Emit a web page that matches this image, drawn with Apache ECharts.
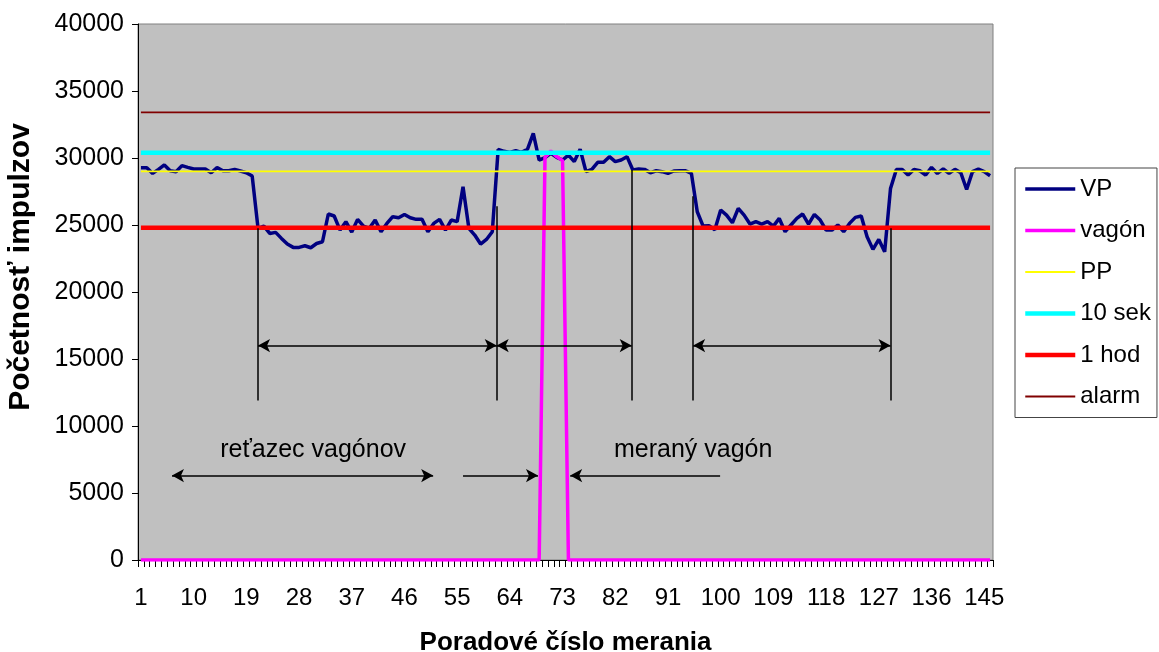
<!DOCTYPE html>
<html>
<head>
<meta charset="utf-8">
<script src="https://cdn.jsdelivr.net/npm/echarts@6/dist/echarts.min.js"></script>
<style>html,body{margin:0;padding:0;background:#fff}#c{width:1159px;height:652px}</style>
</head>
<body>
<div id="c"></div>
<script>
// ---- data ----
const categories = Array.from({length: 146}, (_, i) => String(i + 1));

const vp = [
  29280, 29280, 28850, 29150, 29480, 29050, 28980, 29430, 29300, 29180,
  29180, 29180, 28900, 29280, 29050, 29050, 29150, 29030, 28900, 28650,
  24750, 24920, 24370, 24450, 24000, 23580, 23330, 23330, 23450, 23300,
  23620, 23750, 25820, 25670, 24620, 25250, 24470, 25420, 24920, 24750,
  25370, 24500, 25120, 25620, 25540, 25790, 25540, 25420, 25420, 24500,
  25120, 25420, 24620, 25370, 25250, 27850, 24750, 24250, 23580, 23920,
  24500, 30650, 30500, 30420, 30550, 30420, 30650, 31840, 29850, 30030,
  30350, 30050, 29850, 30220, 29730, 30650, 28980, 29150, 29680, 29680,
  30100, 29730, 29850, 30100, 29100, 29180, 29150, 28900, 29050, 28980,
  28850, 29030, 29050, 29050, 28850, 25990, 24920, 24950, 24650, 26120,
  25740, 25170, 26240, 25740, 25070, 25250, 25070, 25250, 24920, 25490,
  24500, 25000, 25490, 25820, 25070, 25790, 25370, 24620, 24620, 25000,
  24500, 25120, 25570, 25670, 24130, 23180, 23920, 23000, 27730, 29150,
  29150, 28730, 29150, 29050, 28730, 29300, 28850, 29180, 28850, 29150,
  28900, 27650, 28980, 29180, 28980, 28680
];

// vagón: zero except the measured wagon (categories 70..73)
const vagonPeak = {70: 30050, 71: 30520, 72: 30100, 73: 29800};
const vagon = categories.map(c => vagonPeak[c] !== undefined ? vagonPeak[c] : 0);

const ppLevel = 29000;
const sek10Level = 30400;
const hod1Level = 24800;
const alarmLevel = 33400;

const yTicks = {min: 0, max: 40000, interval: 5000};

// annotation geometry in data units (category number, count value)
const vLineX = [21, 61.75, 84.8, 95.3, 129];
const vLineTop = [24750, 26400, 29100, 27150, 24750];
const vLineBottom = 11900;
const spanY = 16000;
const spans = [[21, 61.75], [61.75, 84.8], [95.3, 129]];
const lowY = 6300;
const lowDouble = [[6.3, 50.9]];
const lowSingle = [[56.0, 68.8], [99.9, 74.3]]; // arrow at second point
const noteTexts = ['reťazec vagónov', 'meraný vagón'];
const noteX = [30.4, 95.3];
const noteY = 8200;

// ---- chart ----
const chart = echarts.init(document.getElementById('c'), null, {renderer: 'canvas'});
const font = 'Arial, "Liberation Sans", sans-serif';

function constSeries(name, level, color, width) {
  return {
    name, type: 'line', data: categories.map(() => level),
    showSymbol: false, symbol: 'none',
    lineStyle: {color, width}, itemStyle: {color},
    animation: false, silent: true
  };
}

const annotLines = [];
vLineX.forEach((x, i) => {
  annotLines.push([{coord: [x, vLineTop[i]], symbol: 'none'}, {coord: [x, vLineBottom], symbol: 'none'}]);
});
spans.forEach(s => {
  annotLines.push([{coord: [s[0], spanY], symbol: 'arrow'}, {coord: [s[1], spanY], symbol: 'arrow'}]);
});
lowDouble.forEach(s => {
  annotLines.push([{coord: [s[0], lowY], symbol: 'arrow'}, {coord: [s[1], lowY], symbol: 'arrow'}]);
});
lowSingle.forEach(s => {
  annotLines.push([{coord: [s[0], lowY], symbol: 'none'}, {coord: [s[1], lowY], symbol: 'arrow'}]);
});

const option = {
  backgroundColor: '#ffffff',
  animation: false,
  textStyle: {fontFamily: font},
  grid: {
    left: 138, right: 166, top: 24, bottom: 92,
    show: true, backgroundColor: '#C0C0C0', borderColor: '#808080', borderWidth: 1,
    containLabel: false, outerBoundsMode: 'none'
  },
  legend: {
    orient: 'vertical', left: 1015, top: 168,
    padding: [9, 6, 9, 8], itemGap: 17.5,
    itemWidth: 50, itemHeight: 20,
    backgroundColor: '#ffffff', borderColor: '#444444', borderWidth: 1,
    itemStyle: {opacity: 0},
    lineStyle: {width: 'inherit'},
    textStyle: {fontFamily: font, fontSize: 24, color: '#000'},
    data: ['VP', 'vagón', 'PP', '10 sek', '1 hod', 'alarm']
  },
  xAxis: [{
    type: 'category', data: categories, boundaryGap: true,
    name: 'Poradové číslo merania', nameLocation: 'middle', nameGap: 70,
    nameTextStyle: {fontFamily: font, fontSize: 26, fontWeight: 'bold', color: '#000'},
    axisLine: {lineStyle: {color: '#000', width: 1}},
    axisTick: {show: true, interval: 0, length: 7, lineStyle: {color: '#000'}},
    axisLabel: {interval: 8, margin: 26, fontSize: 24, color: '#000', fontFamily: font},
    splitLine: {show: false}
  }, {
    type: 'value', min: 0.5, max: 146.5, show: false
  }],
  yAxis: {
    type: 'value', min: yTicks.min, max: yTicks.max, interval: yTicks.interval,
    name: 'Početnosť impulzov', nameLocation: 'middle', nameGap: 102, nameRotate: 90,
    nameTextStyle: {fontFamily: font, fontSize: 30, fontWeight: 'bold', color: '#000', padding: [0, 0, 0, 50]},
    axisLine: {show: true, lineStyle: {color: '#000', width: 1}},
    axisTick: {show: true, length: 6, lineStyle: {color: '#000'}},
    axisLabel: {margin: 14, fontSize: 25, color: '#000', fontFamily: font, formatter: v => String(v)},
    splitLine: {show: false}
  },
  series: [
    {
      name: 'VP', type: 'line', data: vp, showSymbol: false, symbol: 'none',
      lineStyle: {color: '#000080', width: 3.5}, itemStyle: {color: '#000080'}
    },
    {
      name: 'vagón', type: 'line', data: vagon, showSymbol: false, symbol: 'none',
      lineStyle: {color: '#FF00FF', width: 3.5}, itemStyle: {color: '#FF00FF'}
    },
    constSeries('PP', ppLevel, '#FFFF00', 1.8),
    constSeries('10 sek', sek10Level, '#00FFFF', 4.5),
    constSeries('1 hod', hod1Level, '#FF0000', 4.5),
    constSeries('alarm', alarmLevel, '#800000', 1.8),
    {
      name: 'annot', type: 'line', xAxisIndex: 1, data: [[0.5, null]],
      showSymbol: false, symbol: 'none', silent: true,
      markLine: {
        silent: true, animation: false,
        symbolSize: [10, 12],
        label: {show: false},
        lineStyle: {color: '#000', width: 1.5, type: 'solid'},
        emphasis: {disabled: true},
        data: annotLines
      }
    },
    {
      name: 'notes', type: 'scatter', xAxisIndex: 1, symbolSize: 0, silent: true,
      itemStyle: {opacity: 1},
      data: noteTexts.map((t, i) => ({value: [noteX[i], noteY], name: t})),
      label: {
        show: true, position: 'inside', formatter: p => p.name,
        fontFamily: font, fontSize: 25, color: '#000', opacity: 1
      }
    }
  ]
};
chart.setOption(option);
</script>
</body>
</html>
